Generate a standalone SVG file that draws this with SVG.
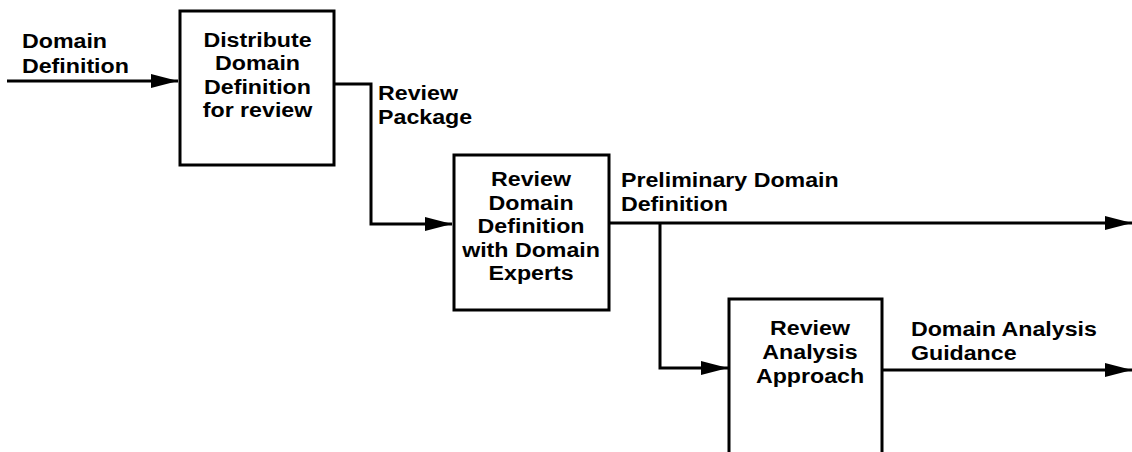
<svg xmlns="http://www.w3.org/2000/svg" width="1132" height="452" viewBox="0 0 1132 452">
<style>
.box{fill:#fff;stroke:#000;stroke-width:3}
.ln{fill:none;stroke:#000;stroke-width:3}
text{font-family:"Liberation Sans",Arial,sans-serif;font-weight:bold;font-size:20px;fill:#000}
.c{text-anchor:middle}
</style>
<defs>
<marker id="ah" markerUnits="userSpaceOnUse" markerWidth="28" markerHeight="14" refX="27" refY="7" orient="auto">
<path d="M0,0 L27,7 L0,14 Z" fill="#000"/>
</marker>
</defs>
<g id="connectors">
<path class="ln" d="M7,81 H178" marker-end="url(#ah)"/>
<path class="ln" d="M334,84 H371 V224 H452" marker-end="url(#ah)"/>
<path class="ln" d="M609,223 H1132" marker-end="url(#ah)"/>
<path class="ln" d="M660,223 V368 H728" marker-end="url(#ah)"/>
<path class="ln" d="M882,370 H1132" marker-end="url(#ah)"/>
<g transform="scale(1.16 1)">
<text x="18.97" y="48">Domain</text>
<text x="18.97" y="73">Definition</text>
<text x="325.9" y="100">Review</text>
<text x="325.9" y="124">Package</text>
<text x="535.3" y="187">Preliminary Domain</text>
<text x="535.3" y="211">Definition</text>
<text x="785.3" y="336">Domain Analysis</text>
<text x="785.3" y="360">Guidance</text>
</g>
</g>
<g id="n1">
<rect class="box" x="180" y="11" width="154" height="154"/>
<g transform="scale(1.16 1)">
<text class="c" x="222" y="47">Distribute</text>
<text class="c" x="222" y="70">Domain</text>
<text class="c" x="222" y="94">Definition</text>
<text class="c" x="222" y="117">for review</text>
</g>
</g>
<g id="n2">
<rect class="box" x="454" y="155" width="155" height="155"/>
<g transform="scale(1.16 1)">
<text class="c" x="457.8" y="186">Review</text>
<text class="c" x="457.8" y="210">Domain</text>
<text class="c" x="457.8" y="233">Definition</text>
<text class="c" x="457.8" y="257">with Domain</text>
<text class="c" x="457.8" y="280">Experts</text>
</g>
</g>
<g id="n3">
<rect class="box" x="729" y="299" width="153" height="170"/>
<g transform="scale(1.16 1)">
<text class="c" x="698.3" y="335">Review</text>
<text class="c" x="698.3" y="359">Analysis</text>
<text class="c" x="698.3" y="383">Approach</text>
</g>
</g>
</svg>
